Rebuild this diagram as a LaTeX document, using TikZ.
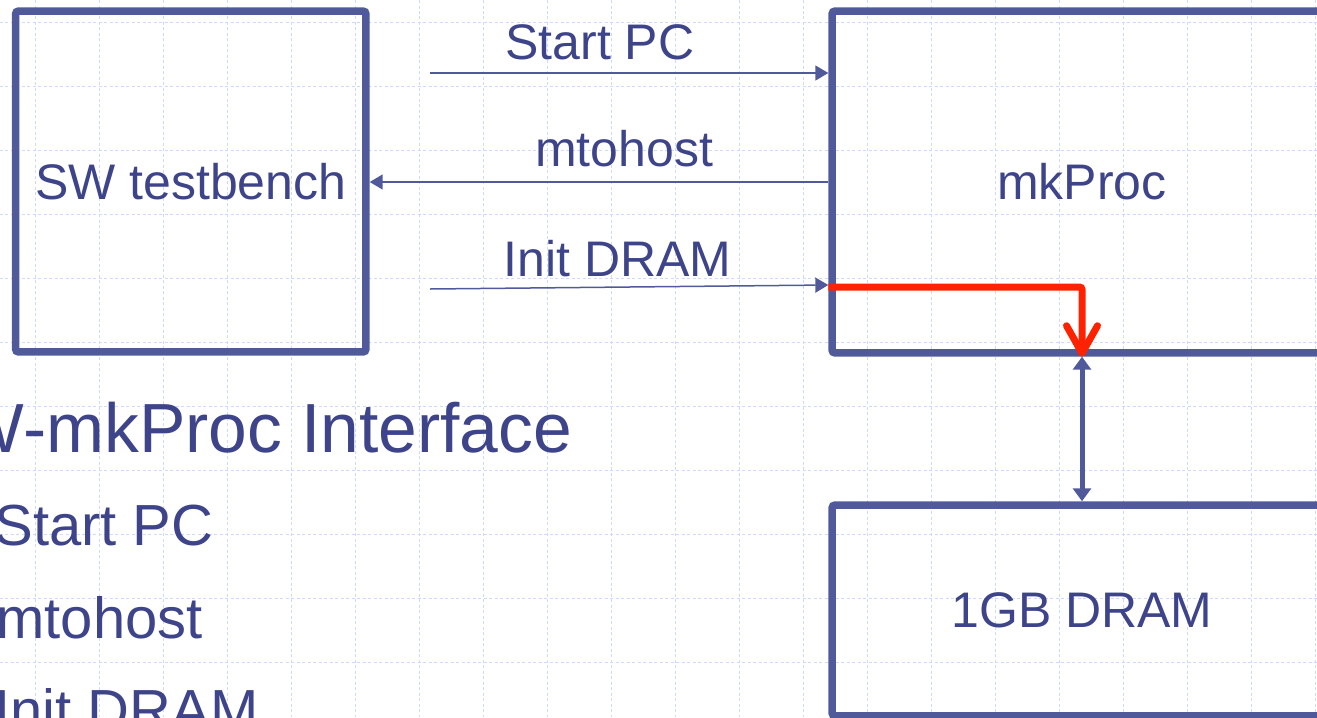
\documentclass[tikz,border=0pt]{standalone}
\usepackage{fontspec}
\setmainfont{Liberation Sans}
\usetikzlibrary{arrows.meta}
\definecolor{slideblue}{RGB}{80,90,155}
\definecolor{slidetext}{RGB}{62,68,138}
\definecolor{slidegrid}{RGB}{205,218,250}
\definecolor{slidered}{RGB}{255,34,0}
\begin{document}
\begin{tikzpicture}[
                x=0.02cm,
                y=-0.02cm,
                gridline/.style={
                    draw=slidegrid,
                    line width=0.02cm,
                    dash pattern=on 0.06cm off 0.05cm
                },
                block/.style={
                    draw=slideblue,
                    line width=0.15cm,
                    rectangle,
                    rounded corners=0.06cm,
                    inner sep=0pt,
                    text=slidetext,
                    font=\fontsize{28.45}{34}\selectfont
                },
                siglabel/.style={
                    anchor=base,
                    inner sep=0pt,
                    text=slidetext,
                    font=\fontsize{28.45}{34}\selectfont
                },
                titletext/.style={
                    anchor=base west,
                    inner sep=0pt,
                    text=slidetext,
                    font=\fontsize{39.6}{47}\selectfont
                },
                itemtext/.style={
                    anchor=base west,
                    inner sep=0pt,
                    text=slidetext,
                    font=\fontsize{33}{40}\selectfont
                },
                sigarrow/.style={
                    draw=slideblue,
                    line width=0.03cm,
                    -{Triangle[length=0.26cm,width=0.3cm]}
                },
                hotpath/.style={
                    draw=slidered,
                    line width=0.14cm,
                    rounded corners=0.05cm,
                    -{Straight Barb[length=0.55cm,width=0.62cm,round]}
                },
                memlink/.style={
                    draw=slideblue,
                    line width=0.1cm,
                    {Triangle[length=0.26cm,width=0.36cm]}-{Triangle[length=0.26cm,width=0.36cm]}
                }
            ]

                \useasboundingbox (0,0) rectangle (1317,717);
                \clip (0,0) rectangle (1317,717);

                \foreach \gx in {35,99,...,1317} \draw[gridline] (\gx,0) -- (\gx,717);
                \foreach \gy in {22,86,...,717} \draw[gridline] (0,\gy) -- (1317,\gy);

                \node[block, minimum width=7.01cm, minimum height=6.82cm] (swtb) at (190.75,181.5) {SW testbench};
                \node[block, minimum width=10cm, minimum height=6.84cm] (proc) at (1082,182) {mkProc};
                \node[block, minimum width=10cm, minimum height=4.22cm] (dram) at (1082,610.5) {1GB DRAM};

                \node[siglabel] (lblstart) at (600,59) {Start PC};
                \node[siglabel] (lblhost) at (624,166) {mtohost};
                \node[siglabel] (lblinit) at (617.5,276) {Init DRAM};

                \coordinate (startsrc) at (430,73);
                \coordinate (initsrc) at (430,289);

                \draw[sigarrow] (startsrc) -- (startsrc -| proc.west);
                \draw[sigarrow] (proc.west |- 0,182) -- (swtb.east |- 0,182);
                \draw[sigarrow] (initsrc) -- (proc.west |- 0,285);
                \draw[hotpath] (proc.west |- 0,287) -| (proc.south);
                \draw[memlink] (proc.south) -- (dram.north);

                \node[titletext] (title) at (-88,452) {SW-mkProc Interface};
                \node[itemtext] (itemstart) at (-6,545) {Start PC};
                \node[itemtext] (itemhost) at (-4,638) {mtohost};
                \node[itemtext] (iteminit) at (-6,730) {Init DRAM};
        \end{tikzpicture}
\end{document}
